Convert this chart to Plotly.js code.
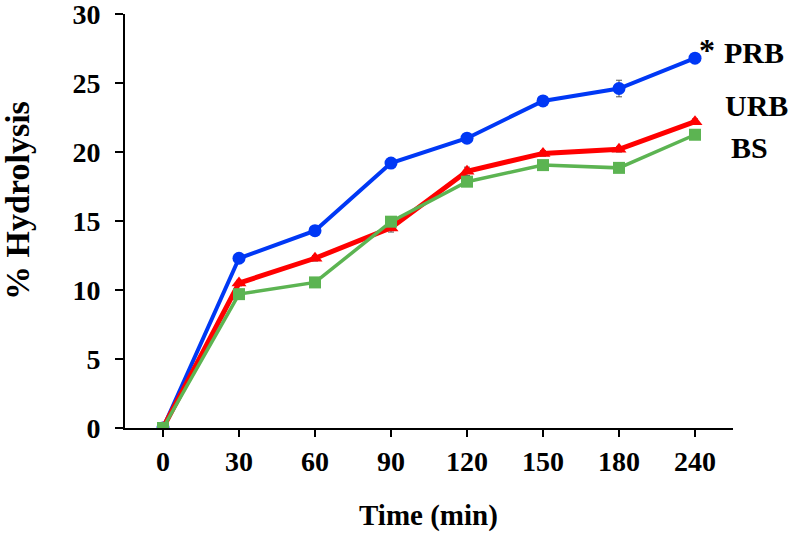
<!DOCTYPE html>
<html>
<head>
<meta charset="utf-8">
<script src="https://cdn.plot.ly/plotly-3.0.1.min.js"></script>
<style>html,body{margin:0;padding:0;background:#fff;}#chart{width:792px;height:533px;}</style>
</head>
<body>
<div id="chart"></div>
<script>
// Data
const timeLabels = ["0", "30", "60", "90", "120", "150", "180", "240"];
const prbValues = [0, 12.3, 14.3, 19.2, 21.0, 23.7, 24.6, 26.8];
const prbErrors = [0, 0.2, 0.2, 0.2, 0.2, 0.2, 0.6, 0.2];
const urbValues = [0, 10.5, 12.3, 14.5, 18.6, 19.9, 20.2, 22.2];
const urbErrors = [0, 0.2, 0.2, 0.3, 0.3, 0.2, 0.2, 0.2];
const bsValues = [0, 9.7, 10.55, 14.95, 17.85, 19.05, 18.85, 21.25];
const bsErrors = [0, 0.2, 0.2, 0.2, 0.2, 0.2, 0.2, 0.2];
const yTickValues = [0, 5, 10, 15, 20, 25, 30];
const seriesNames = ["PRB", "URB", "BS"];

const idx = timeLabels.map((_, i) => i);
const FONT = "Liberation Serif, Times New Roman, serif";

const traces = [
  {
    x: idx, y: prbValues, name: seriesNames[0], type: "scatter", mode: "lines+markers",
    line: {color: "#0038F5", width: 4},
    marker: {symbol: "circle", size: 13, color: "#0038F5"},
    error_y: {type: "data", array: prbErrors, visible: true, color: "#555", thickness: 1, width: 3}
  },
  {
    x: idx, y: urbValues, name: seriesNames[1], type: "scatter", mode: "lines+markers",
    line: {color: "#FF0000", width: 5},
    marker: {symbol: "triangle-up", size: 13, color: "#FF0000"},
    error_y: {type: "data", array: urbErrors, visible: true, color: "#555", thickness: 1, width: 3}
  },
  {
    x: idx, y: bsValues, name: seriesNames[2], type: "scatter", mode: "lines+markers",
    line: {color: "#5CB452", width: 3.5},
    marker: {symbol: "square", size: 12, color: "#5CB452"},
    error_y: {type: "data", array: bsErrors, visible: true, color: "#555", thickness: 1, width: 3}
  }
];

const tickFont = {family: FONT, size: 28, color: "#000", weight: "bold"};
const labelFont = {family: FONT, size: 30, color: "#000"};

const layout = {
  width: 792, height: 533,
  margin: {l: 125, r: 59, t: 14, b: 105},
  paper_bgcolor: "#fff", plot_bgcolor: "#fff",
  showlegend: false,
  font: {family: FONT, color: "#000"},
  xaxis: {
    range: [-0.5, 7.5],
    tickmode: "array", tickvals: idx, ticktext: timeLabels,
    showgrid: false, zeroline: false,
    showline: true, linecolor: "#000", linewidth: 2,
    ticks: "outside", ticklen: 7, tickwidth: 2, tickcolor: "#000",
    tickfont: tickFont,
    ticklabeloverflow: "allow",
    automargin: false
  },
  yaxis: {
    range: [0, 30],
    tickmode: "array", tickvals: yTickValues,
    showgrid: false, zeroline: false,
    showline: true, linecolor: "#000", linewidth: 2,
    ticks: "outside", ticklen: 8, tickwidth: 2, tickcolor: "#000",
    tickfont: tickFont,
    ticklabelstandoff: 9,
    ticklabeloverflow: "allow",
    automargin: false
  },
  annotations: [
    {x: 0.499, y: -0.212, xref: "paper", yref: "paper", text: "<b>Time (min)</b>", showarrow: false,
     font: {family: FONT, size: 29, color: "#000"}, xanchor: "center", yanchor: "middle"},
    {x: -0.176, y: 0.551, xref: "paper", yref: "paper", text: "<b>% Hydrolysis</b>", showarrow: false,
     textangle: -90, font: {family: FONT, size: 34, color: "#000"}, xanchor: "center", yanchor: "middle"},
    {x: 0.957, y: 0.912, xref: "paper", yref: "paper", text: "<b>*</b>", showarrow: false,
     font: {family: FONT, size: 32, color: "#000"}, xanchor: "center", yanchor: "middle"},
    {x: 1.0345, y: 0.906, xref: "paper", yref: "paper", text: "<b>PRB</b>", showarrow: false,
     font: labelFont, xanchor: "center", yanchor: "middle"},
    {x: 1.039, y: 0.778, xref: "paper", yref: "paper", text: "<b>URB</b>", showarrow: false,
     font: labelFont, xanchor: "center", yanchor: "middle"},
    {x: 1.027, y: 0.678, xref: "paper", yref: "paper", text: "<b>BS</b>", showarrow: false,
     font: labelFont, xanchor: "center", yanchor: "middle"}
  ]
};

Plotly.newPlot("chart", traces, layout, {displayModeBar: false, staticPlot: true});
</script>
</body>
</html>
